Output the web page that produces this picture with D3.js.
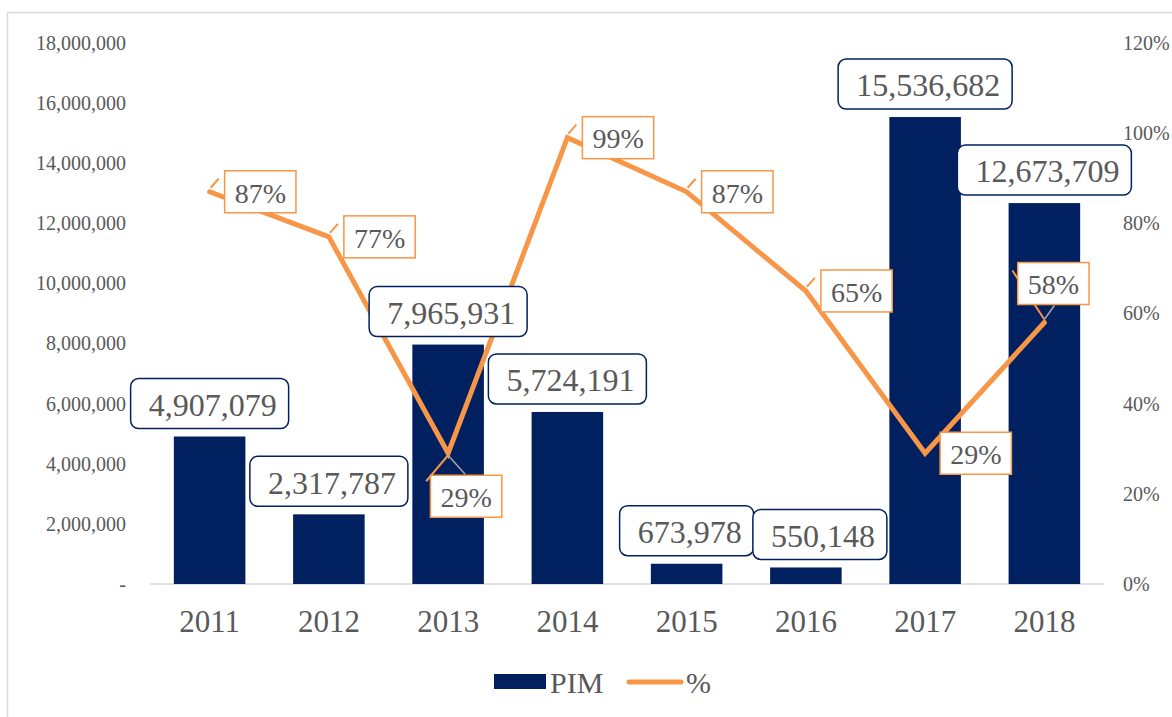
<!DOCTYPE html>
<html lang="es">
<head>
  <meta charset="UTF-8" />
  <title>PIM y %</title>
  <script src="https://d3js.org/d3.v7.min.js"></script>
  <style>
    html, body {
      margin: 0;
      padding: 0;
      background: #fff;
    }
    svg, svg text {
      display: block;
      font-family: 'Liberation Serif', 'Times New Roman', serif;
    }
    .tick-label {
      font-size: 20px;
      fill: #595959;
    }
    .year-label {
      font-size: 31px;
      fill: #595959;
    }
    .val-label {
      font-size: 32px;
      fill: #595959;
    }
    .pct-label {
      font-size: 28px;
      fill: #595959;
    }
    .legend-label {
      font-size: 30px;
      fill: #595959;
    }
  </style>
</head>
<body>
<svg width="1172" height="717"></svg>

<script>
const years = ["2011", "2012", "2013", "2014", "2015", "2016", "2017", "2018"];
const pim = [4907079, 2317787, 7965931, 5724191, 673978, 550148, 15536682, 12673709];
const pct = [0.87, 0.77, 0.29, 0.99, 0.87, 0.65, 0.29, 0.58];
// where each % label sits relative to its point
const pctPlace = ["right", "right", "below", "right", "right", "right", "right", "above"];
const leftTicks = [0, 2000000, 4000000, 6000000, 8000000, 10000000, 12000000, 14000000, 16000000, 18000000];
const rightTicks = [0, 0.2, 0.4, 0.6, 0.8, 1.0, 1.2];

const navy = "#002060";
const orange = "#f79646";

const svg = d3.select("svg");

// outer border of the chart area
svg.append("rect")
  .attr("x", 7.5).attr("y", 12.5)
  .attr("width", 1200).attr("height", 740)
  .attr("fill", "none")
  .attr("stroke", "#d9d9d9")
  .attr("stroke-width", 1.5);

const x = d3.scaleBand()
  .domain(years)
  .range([150, 1104])
  .paddingInner(0.4)
  .paddingOuter(0.2);

const yL = d3.scaleLinear().domain([0, 18000000]).range([584, 43]);
const yR = d3.scaleLinear().domain([0, 1.2]).range([584, 43]);

const cleanText = g => g.attr("font-family", null).attr("font-size", null)
  .selectAll("text").attr("fill", null);

// left axis
const fmtNum = d3.format(",");
svg.append("g")
  .attr("transform", "translate(126,0)")
  .call(d3.axisLeft(yL).tickValues(leftTicks).tickSize(0).tickPadding(0)
    .tickFormat(d => d === 0 ? "-" : fmtNum(d)))
  .call(g => g.select(".domain").remove())
  .call(cleanText)
  .call(g => g.selectAll("text").attr("class", "tick-label"));

// right axis
svg.append("g")
  .attr("transform", "translate(1123,0)")
  .call(d3.axisRight(yR).tickValues(rightTicks).tickSize(0).tickPadding(0)
    .tickFormat(d3.format(".0%")))
  .call(g => g.select(".domain").remove())
  .call(cleanText)
  .call(g => g.selectAll("text").attr("class", "tick-label"));

// x axis labels
svg.append("g")
  .attr("transform", "translate(0,584)")
  .call(d3.axisBottom(x).tickSize(0).tickPadding(0))
  .call(g => g.select(".domain").remove())
  .call(cleanText)
  .call(g => g.selectAll("text")
    .attr("class", "year-label")
    .attr("y", 38).attr("dy", "0.32em"));

// baseline
svg.append("line")
  .attr("x1", 150).attr("x2", 1104)
  .attr("y1", 584).attr("y2", 584)
  .attr("stroke", "#d9d9d9")
  .attr("stroke-width", 1.5);

// bars
svg.append("g")
  .selectAll("rect")
  .data(years)
  .join("rect")
  .attr("x", d => x(d))
  .attr("width", x.bandwidth())
  .attr("y", (d, i) => yL(pim[i]))
  .attr("height", (d, i) => yL(0) - yL(pim[i]))
  .attr("fill", navy);

// % line
const cx = d => x(d) + x.bandwidth() / 2;
const pts = years.map((d, i) => [cx(d), yR(pct[i])]);

svg.append("path")
  .datum(pts)
  .attr("d", d3.line())
  .attr("fill", "none")
  .attr("stroke", orange)
  .attr("stroke-width", 5)
  .attr("stroke-linecap", "round")
  .attr("stroke-linejoin", "miter");

// leader strokes
const leaders = svg.append("g");
pts.forEach(([px, py], i) => {
  const place = pctPlace[i];
  if (place === "right") {
    if (i === 6) return;
    leaders.append("line")
      .attr("x1", px + 1).attr("y1", py - 4)
      .attr("x2", px + 9).attr("y2", py - 13)
      .attr("stroke", orange).attr("stroke-width", 2);
  } else if (place === "below") {
    leaders.append("line")
      .attr("x1", px - 22).attr("y1", py + 28)
      .attr("x2", px).attr("y2", py + 2)
      .attr("stroke", orange).attr("stroke-width", 2);
    leaders.append("line")
      .attr("x1", px).attr("y1", py + 2)
      .attr("x2", px + 17).attr("y2", py + 21)
      .attr("stroke", "#a6a6a6").attr("stroke-width", 1.5);
  } else {
    leaders.append("line")
      .attr("x1", px - 32).attr("y1", py - 52)
      .attr("x2", px).attr("y2", py - 3)
      .attr("stroke", orange).attr("stroke-width", 2);
    leaders.append("line")
      .attr("x1", px).attr("y1", py - 3)
      .attr("x2", px + 10).attr("y2", py - 17)
      .attr("stroke", "#a6a6a6").attr("stroke-width", 1.5);
  }
});

// value labels (rounded boxes above bars); 2016 box nudged right to clear 2015
const valG = svg.append("g");
years.forEach((d, i) => {
  const g = valG.append("g");
  const box = g.append("rect");
  const t = g.append("text")
    .attr("class", "val-label")
    .attr("text-anchor", "middle")
    .attr("dy", "0.35em")
    .text(fmtNum(pim[i]));
  const w = t.node().getComputedTextLength() + 30;
  const h = 50;
  const bottom = yL(pim[i]) - 8;
  const c = cx(d) + (d === "2016" ? 14 : 0);
  box.attr("x", c - w / 2).attr("y", bottom - h)
    .attr("width", w).attr("height", h)
    .attr("rx", 8).attr("ry", 8)
    .attr("fill", "#fff")
    .attr("stroke", navy)
    .attr("stroke-width", 1.5);
  t.attr("x", c + 3).attr("y", bottom - h / 2 + 1);
});

// % labels
const pctG = svg.append("g");
const fmtPct = d3.format(".0%");
pts.forEach(([px, py], i) => {
  const g = pctG.append("g");
  const box = g.append("rect");
  const t = g.append("text")
    .attr("class", "pct-label")
    .attr("text-anchor", "middle")
    .attr("dy", "0.35em")
    .text(fmtPct(pct[i]));
  const w = t.node().getComputedTextLength() + 20;
  const h = 42;
  let bx, by;
  if (pctPlace[i] === "right") {
    bx = px + 15; by = py - h / 2;
  } else if (pctPlace[i] === "below") {
    bx = px + 18 - w / 2; by = py + 22;
  } else {
    bx = px + 9 - w / 2; by = py - 18 - h;
  }
  box.attr("x", bx).attr("y", by)
    .attr("width", w).attr("height", h)
    .attr("fill", "#fff")
    .attr("stroke", orange)
    .attr("stroke-width", 1.5);
  t.attr("x", bx + w / 2).attr("y", by + h / 2 + 1);
});

// legend
const leg = svg.append("g");
leg.append("rect")
  .attr("x", 494).attr("y", 674)
  .attr("width", 52).attr("height", 15)
  .attr("fill", navy);
leg.append("text")
  .attr("class", "legend-label")
  .attr("x", 550).attr("y", 682)
  .attr("dy", "0.35em")
  .text("PIM");
leg.append("line")
  .attr("x1", 629).attr("x2", 681)
  .attr("y1", 682).attr("y2", 682)
  .attr("stroke", orange)
  .attr("stroke-width", 5)
  .attr("stroke-linecap", "round");
leg.append("text")
  .attr("class", "legend-label")
  .attr("x", 686).attr("y", 682)
  .attr("dy", "0.35em")
  .text("%");
</script>
</body>
</html>
